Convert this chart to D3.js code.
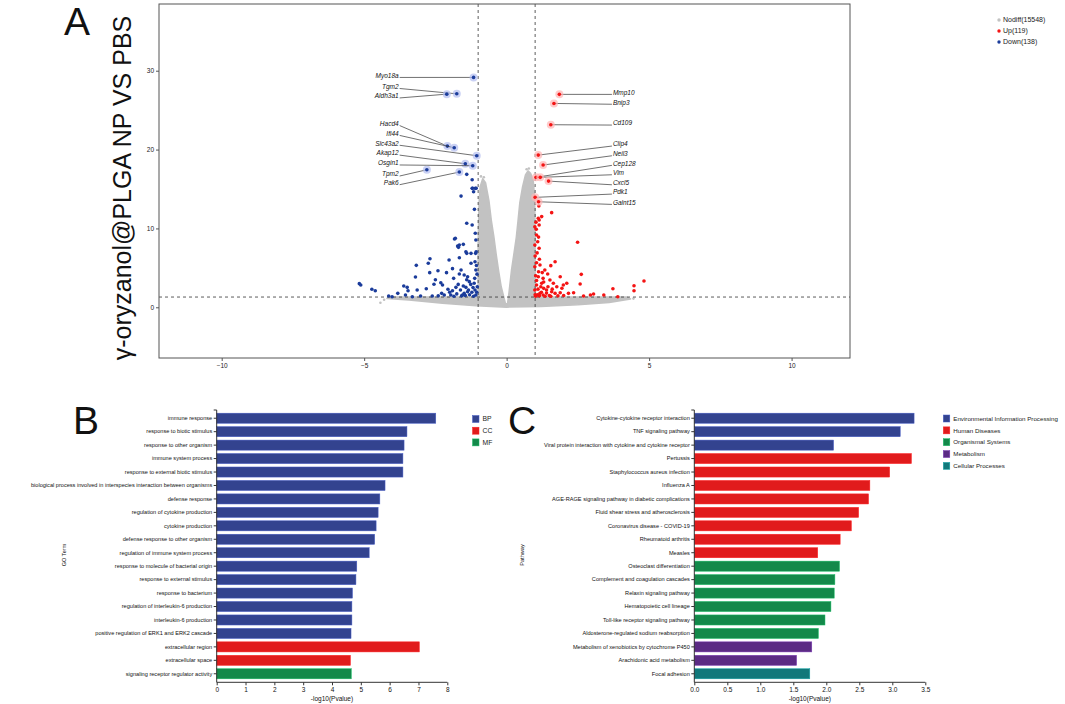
<!DOCTYPE html>
<html>
<head>
<meta charset="utf-8">
<script src="https://cdn.jsdelivr.net/npm/d3@7"></script>
<style>
  body { margin: 0; background: #fff; }
  svg { display: block; font-family: Arial, "Liberation Sans", sans-serif; }
</style>
</head>
<body>
<svg id="fig" width="1065" height="704"></svg>
<script>
// ---- volcano data (log2FC, -log10 p) ----
const volcanoXTicks = [-10, -5, 0, 5, 10];
const volcanoYTicks = [0, 10, 20, 30];
const legendA = ["Nodiff(15548)", "Up(119)", "Down(138)"];

// outline of the dense grey "no difference" cloud
const nodiffOutline = [
  [-4.15, 1.3], [-1.0, 1.3], [-1.0, 8], [-0.97, 13], [-0.93, 15.3], [-0.84, 16.3],
  [-0.74, 15.8], [-0.62, 13.5], [-0.54, 11.1], [-0.45, 9], [-0.37, 6.8], [-0.28, 4.6],
  [-0.19, 2.6], [-0.1, 1.3], [-0.04, 0.45], [0.03, 0.45], [0.08, 1.8], [0.17, 4.7],
  [0.26, 6.9], [0.34, 8.9], [0.4, 11], [0.46, 13.2], [0.56, 15.3], [0.66, 16.8],
  [0.75, 17.3], [0.84, 17.0], [0.93, 16.2], [0.98, 14], [1.0, 10], [1.0, 1.3],
  [4.2, 1.3], [4.35, 1.05], [3.6, 0.6], [2.5, 0.32], [1.2, 0.1], [0, 0.02],
  [-1.07, 0.19], [-2.25, 0.5], [-3.43, 0.93], [-4.2, 1.1]
];
const nodiffStray = [[-4.43, 0.58], [-4.3, 0.95], [4.45, 1.1], [0.78, 17.6], [-0.9, 16.6], [-0.8, 16.5], [0.7, 17.5]];

const downPoints = [
  [-5.17, 3.0], [-5.12, 2.83], [-4.73, 2.28], [-4.61, 2.1], [-4.14, 1.43], [-4.02, 1.34],
  [-3.82, 1.77], [-3.61, 2.7], [-3.49, 2.53], [-3.46, 2.1], [-3.55, 1.56], [-3.31, 1.34],
  [-3.17, 5.32], [-3.2, 3.84], [-3.14, 2.19], [-3.02, 1.43], [-2.82, 2.36], [-2.75, 5.58],
  [-2.69, 6.16], [-2.7, 4.39], [-2.61, 1.43], [-2.55, 2.92], [-2.41, 4.64], [-2.31, 3.12],
  [-2.25, 2.83], [-2.28, 1.77], [-2.19, 1.56], [-2.11, 4.39], [-2.06, 2.28], [-2.02, 6.0],
  [-1.96, 1.56], [-1.86, 3.67], [-1.83, 8.66], [-1.78, 2.53], [-1.72, 7.77], [-1.66, 7.9],
  [-1.69, 7.6], [-1.52, 7.98], [-1.66, 6.29], [-1.66, 4.22], [-1.6, 4.73], [-1.6, 14.1],
  [-1.49, 4.09], [-1.37, 3.88], [-1.31, 3.25], [-1.43, 2.53], [-1.49, 1.77], [-1.37, 1.98],
  [-1.55, 1.56], [-1.4, 16.86], [-1.4, 10.65], [-1.4, 6.84], [-1.21, 16.17], [-1.21, 10.43],
  [-1.21, 15.08], [-1.16, 14.65], [-1.13, 12.42], [-1.1, 15.08], [-1.1, 9.38], [-1.08, 8.53],
  [-1.09, 6.84], [-1.11, 5.78], [-1.08, 4.73], [-1.12, 3.67], [-1.14, 3.04], [-1.11, 2.19],
  [-1.08, 1.56], [-1.25, 6.84], [-1.25, 5.58], [-1.19, 15.1], [-1.07, 15.1], [-1.8, 8.74],
  [-1.43, 7.05], [-1.07, 7.05], [-2.4, 1.45], [-2.0, 1.9], [-1.9, 2.1], [-1.85, 1.4],
  [-1.75, 1.7], [-1.7, 2.9], [-1.62, 2.2], [-1.58, 1.45], [-1.52, 2.7], [-1.45, 1.5],
  [-1.4, 3.5], [-1.34, 2.2], [-1.3, 1.6], [-1.26, 2.9], [-1.22, 1.9], [-1.18, 2.5],
  [-1.16, 1.4], [-1.05, 1.9], [-1.03, 2.6], [-1.04, 4.2], [-1.06, 5.3], [-1.9, 4.9], [-2.5, 3.5]
];

const upPoints = [
  [1.58, 12.0], [1.11, 11.3], [1.23, 11.5], [1.14, 11.06], [1.03, 10.8], [1.13, 12.84],
  [0.99, 10.2], [1.14, 10.43], [1.05, 9.16], [1.09, 8.31], [0.99, 7.9], [1.14, 7.48],
  [2.49, 8.24], [1.05, 5.65], [1.17, 5.36], [0.99, 5.15], [1.55, 5.28], [1.34, 4.73],
  [1.44, 4.22], [1.7, 5.78], [1.88, 3.88], [2.11, 3.04], [2.62, 4.18], [2.58, 2.95],
  [1.99, 2.83], [1.94, 2.41], [1.76, 2.61], [1.64, 3.04], [1.52, 3.46], [1.28, 3.67],
  [1.11, 3.88], [1.23, 3.04], [1.05, 2.83], [1.4, 2.19], [1.58, 1.98], [1.17, 1.77],
  [0.99, 2.19], [1.28, 1.56], [1.7, 1.77], [1.88, 1.85], [2.17, 1.77], [2.35, 1.85],
  [2.7, 1.43], [2.94, 1.56], [3.05, 1.69], [3.41, 1.56], [3.73, 2.36], [3.9, 1.34],
  [4.47, 2.74], [4.47, 2.1], [4.82, 3.33], [1.02, 1.4], [1.08, 1.6], [1.15, 1.45],
  [1.22, 1.9], [1.3, 2.4], [1.35, 1.4], [1.45, 2.6], [1.5, 1.5], [1.6, 2.3],
  [1.05, 3.4], [1.12, 4.5], [1.25, 4.4], [1.0, 6.5], [1.07, 6.9], [1.2, 2.6],
  [1.1, 2.3], [1.0, 1.6], [1.4, 1.8], [1.55, 1.4], [1.8, 1.45], [2.0, 1.5],
  [1.02, 4.0], [1.3, 3.2], [1.15, 6.1], [1.04, 9.9], [1.12, 8.9]
];

const downLabels = ["Myo18a", "Tgm2", "Aldh3a1", "Hacd4", "Ifi44", "Slc43a2", "Akap12", "Osgin1", "Tpm2", "Pak6"];
const downLabelPoints = [[-1.16, 29.15], [-1.75, 27.07], [-2.1, 27.03], [-2.08, 20.44], [-1.84, 20.23],
  [-1.05, 19.22], [-1.45, 18.2], [-1.19, 17.95], [-2.8, 17.44], [-1.66, 17.15]];
const downLabelX = -3.79;
const downLabelY = [29.4, 28.0, 26.8, 23.3, 22.05, 20.8, 19.55, 18.3, 16.9, 15.8];

const upLabels = ["Mmp10", "Bnip3", "Cd109", "Clip4", "Neil3", "Cep128", "Vim", "Cxcl5", "Pdk1", "Galnt15"];
const upLabelPoints = [[1.85, 27.0], [1.66, 25.85], [1.55, 23.15], [1.11, 19.3], [1.28, 18.04],
  [1.03, 16.48], [1.18, 16.48], [1.47, 16.0], [1.0, 13.94], [1.12, 13.38]];
const upLabelX = 3.73;
const upLabelY = [27.25, 26.0, 23.36, 20.7, 19.47, 18.25, 17.06, 15.79, 14.61, 13.3];

// ---- GO enrichment (panel B) ----
const goTerms = [
  "immune response", "response to biotic stimulus", "response to other organism",
  "immune system process", "response to external biotic stimulus",
  "biological process involved in interspecies interaction between organisms",
  "defense response", "regulation of cytokine production", "cytokine production",
  "defense response to other organism", "regulation of immune system process",
  "response to molecule of bacterial origin", "response to external stimulus",
  "response to bacterium", "regulation of interleukin-6 production",
  "interleukin-6 production", "positive regulation of ERK1 and ERK2 cascade",
  "extracellular region", "extracellular space", "signaling receptor regulator activity"
];
const goValues = [7.6, 6.6, 6.5, 6.46, 6.46, 5.84, 5.66, 5.6, 5.53, 5.48, 5.29, 4.86, 4.83, 4.71, 4.69, 4.69, 4.66, 7.03, 4.64, 4.67];
const goGroups = ["BP", "BP", "BP", "BP", "BP", "BP", "BP", "BP", "BP", "BP", "BP", "BP", "BP", "BP", "BP", "BP", "BP", "CC", "CC", "MF"];
const goGroupNames = ["BP", "CC", "MF"];
const goXTicks = [0, 1, 2, 3, 4, 5, 6, 7, 8];

// ---- KEGG enrichment (panel C) ----
const keggTerms = [
  "Cytokine-cytokine receptor interaction", "TNF signaling pathway",
  "Viral protein interaction with cytokine and cytokine receptor", "Pertussis",
  "Staphylococcus aureus infection", "Influenza A",
  "AGE-RAGE signaling pathway in diabetic complications", "Fluid shear stress and atherosclerosis",
  "Coronavirus disease - COVID-19", "Rheumatoid arthritis", "Measles",
  "Osteoclast differentiation", "Complement and coagulation cascades", "Relaxin signaling pathway",
  "Hematopoietic cell lineage", "Toll-like receptor signaling pathway",
  "Aldosterone-regulated sodium reabsorption", "Metabolism of xenobiotics by cytochrome P450",
  "Arachidonic acid metabolism", "Focal adhesion"
];
const keggValues = [3.33, 3.12, 2.11, 3.29, 2.96, 2.66, 2.64, 2.49, 2.38, 2.21, 1.87, 2.2, 2.13, 2.12, 2.07, 1.98, 1.88, 1.78, 1.55, 1.75];
const keggGroupNames = ["Environmental Information Processing", "Human Diseases", "Organismal Systems", "Metabolism", "Cellular Processes"];
const keggGroups = [0, 0, 0, 1, 1, 1, 1, 1, 1, 1, 1, 2, 2, 2, 2, 2, 2, 3, 3, 4].map(i => keggGroupNames[i]);
const keggXTicks = [0, 0.5, 1, 1.5, 2, 2.5, 3, 3.5];

// ---- styles ----
const colNodiff = "#c2c2c2", colUp = "#f41414", colDown = "#1b3c9b";
const goColors = { BP: "#33438f", CC: "#e11b1c", MF: "#13894a" };
const keggColors = ["#33438f", "#e11b1c", "#13894a", "#5b2b84", "#11787a"];
const axisColor = "#333";

let svg = d3.select("#fig");

//panel letters
function drawLetters()
{
    [["A", 64, 35], ["B", 73, 434], ["C", 508, 434]].forEach(([t, x, y]) => {
        svg.append("text").attr("x", x).attr("y", y).attr("font-size", 39)
            .attr("fill", "#111").text(t);
    });
}

//volcano -------------------------------------------------------------
function drawVolcano()
{
    const box = { left: 159, right: 850, top: 4, bottom: 358 };
    const x = d3.scaleLinear().domain([-12.2, 12.05]).range([box.left, box.right]);
    const y = d3.scaleLinear().domain([-6.43, 38.46]).range([box.bottom, box.top]);
    const g = svg.append("g");

    // grey cloud
    g.append("path")
        .attr("d", d3.line().x(d => x(d[0])).y(d => y(d[1])).curve(d3.curveLinearClosed)(nodiffOutline))
        .attr("fill", colNodiff).attr("stroke", colNodiff).attr("stroke-width", 1.5)
        .attr("stroke-linejoin", "round");
    g.selectAll(".stray").data(nodiffStray).join("circle")
        .attr("cx", d => x(d[0])).attr("cy", d => y(d[1])).attr("r", 1.3).attr("fill", colNodiff);

    // threshold lines
    const dash = "3,3";
    [-1, 1].forEach(v => g.append("line").attr("x1", x(v)).attr("x2", x(v))
        .attr("y1", box.top).attr("y2", box.bottom)
        .attr("stroke", axisColor).attr("stroke-width", 0.8).attr("stroke-dasharray", dash));
    g.append("line").attr("x1", box.left).attr("x2", box.right)
        .attr("y1", y(-Math.log10(0.05))).attr("y2", y(-Math.log10(0.05)))
        .attr("stroke", axisColor).attr("stroke-width", 0.8).attr("stroke-dasharray", dash);

    g.selectAll(".down").data(downPoints).join("circle")
        .attr("cx", d => x(d[0])).attr("cy", d => y(d[1])).attr("r", 1.8).attr("fill", colDown);
    g.selectAll(".up").data(upPoints).join("circle")
        .attr("cx", d => x(d[0])).attr("cy", d => y(d[1])).attr("r", 1.8).attr("fill", colUp);

    // labelled genes
    function labelSet(names, pts, lx, lys, col, halo, anchor)
    {
        names.forEach((n, i) => {
            const px = x(pts[i][0]), py = y(pts[i][1]);
            const tx = x(lx), ty = y(lys[i]);
            g.append("line").attr("x1", tx + (anchor === "end" ? 1 : -1)).attr("y1", ty + 2)
                .attr("x2", px).attr("y2", py).attr("stroke", "#333").attr("stroke-width", 0.7);
            g.append("circle").attr("cx", px).attr("cy", py).attr("r", 4).attr("fill", halo).attr("opacity", 0.7);
            g.append("circle").attr("cx", px).attr("cy", py).attr("r", 1.8).attr("fill", col);
            g.append("text").attr("x", tx).attr("y", ty).attr("dy", "0.35em")
                .attr("text-anchor", anchor).attr("font-size", 6.5).attr("font-style", "italic")
                .attr("fill", "#111").text(n);
        });
    }
    labelSet(downLabels, downLabelPoints, downLabelX, downLabelY, colDown, "#b4bdf0", "end");
    labelSet(upLabels, upLabelPoints, upLabelX, upLabelY, colUp, "#ffb4b4", "start");

    // frame + axes
    g.append("rect").attr("x", box.left).attr("y", box.top)
        .attr("width", box.right - box.left).attr("height", box.bottom - box.top)
        .attr("fill", "none").attr("stroke", "#555").attr("stroke-width", 1);

    const xa = g.append("g").attr("transform", `translate(0,${box.bottom})`)
        .call(d3.axisBottom(x).tickValues(volcanoXTicks).tickSize(3).tickPadding(2));
    const ya = g.append("g").attr("transform", `translate(${box.left},0)`)
        .call(d3.axisLeft(y).tickValues(volcanoYTicks).tickSize(3).tickPadding(2));
    [xa, ya].forEach(a => {
        a.select(".domain").remove();
        a.selectAll("text").attr("font-size", 6.5).attr("fill", "#222").attr("font-family", null);
        a.selectAll("line").attr("stroke", "#555");
    });

    svg.append("text")
        .attr("transform", `translate(131,${(box.top + 372) / 2}) rotate(-90)`)
        .attr("text-anchor", "middle").attr("font-size", 25).attr("fill", "#111")
        .text("\u03b3-oryzanol@PLGA NP VS PBS");

    // legend
    const lg = svg.append("g");
    const lcols = [colNodiff, colUp, colDown];
    legendA.forEach((t, i) => {
        lg.append("circle").attr("cx", 999).attr("cy", 20 + i * 11).attr("r", 1.7).attr("fill", lcols[i]);
        lg.append("text").attr("x", 1003).attr("y", 20 + i * 11).attr("dy", "0.35em")
            .attr("font-size", 7).attr("fill", "#222").text(t);
    });
}

//bar panels -------------------------------------------------------------
function drawBars(terms, values, groups, colorOf, xDomain, xTicks, tickFmt, x0, x1, yTitle, yTitleX)
{
    const top = 411.5, bottom = 680.5, axisTop = 410, axisBottom = 682.3;
    const x = d3.scaleLinear().domain(xDomain).range([x0, x1]);
    const y = d3.scaleBand().domain(terms).range([top, bottom]).paddingInner(0.25).paddingOuter(0.125);
    const g = svg.append("g");

    g.selectAll("rect").data(terms).join("rect")
        .attr("x", x(0)).attr("y", d => y(d))
        .attr("width", (d, i) => x(values[i]) - x(0)).attr("height", y.bandwidth())
        .attr("fill", (d, i) => colorOf(groups[i]))
        .attr("stroke", (d, i) => d3.color(colorOf(groups[i])).brighter(0.9))
        .attr("stroke-width", 0.5);

    const ya = g.append("g").attr("transform", `translate(${x0},0)`)
        .call(d3.axisLeft(y).tickSize(3).tickPadding(1.5));
    ya.select(".domain").remove();
    ya.selectAll("text").attr("font-size", 5.6).attr("fill", "#111").attr("font-family", null);

    const xa = g.append("g").attr("transform", `translate(0,${axisBottom})`)
        .call(d3.axisBottom(x).tickValues(xTicks).tickFormat(tickFmt).tickSize(3).tickPadding(2));
    xa.select(".domain").remove();
    xa.selectAll("text").attr("font-size", 6.5).attr("fill", "#111").attr("font-family", null);

    g.append("line").attr("x1", x0).attr("x2", x0).attr("y1", axisTop).attr("y2", axisBottom).attr("stroke", axisColor);
    g.append("line").attr("x1", x0 - 3).attr("x2", x0).attr("y1", axisTop).attr("y2", axisTop).attr("stroke", axisColor);
    g.append("line").attr("x1", x0).attr("x2", x1).attr("y1", axisBottom).attr("y2", axisBottom).attr("stroke", axisColor);
    g.selectAll(".tick line").attr("stroke", axisColor);

    g.append("text").attr("x", (x0 + x1) / 2).attr("y", 701).attr("text-anchor", "middle")
        .attr("font-size", 6.5).attr("fill", "#111").text("-log10(Pvalue)");
    g.append("text").attr("transform", `translate(${yTitleX},555) rotate(-90)`)
        .attr("text-anchor", "middle").attr("font-size", 5.6).attr("fill", "#111").text(yTitle);
}

function drawLegend(names, colors, lx, ly, step, fontSize)
{
    const g = svg.append("g");
    names.forEach((n, i) => {
        g.append("rect").attr("x", lx).attr("y", ly + i * step - 3.5).attr("width", 6.5).attr("height", 7)
            .attr("fill", colors[i]).attr("stroke", d3.color(colors[i]).brighter(0.9)).attr("stroke-width", 0.5);
        g.append("text").attr("x", lx + 10).attr("y", ly + i * step).attr("dy", "0.35em")
            .attr("font-size", fontSize).attr("fill", "#222").text(n);
    });
}

function init()
{
    drawLetters();
    drawVolcano();
    drawBars(goTerms, goValues, goGroups, g => goColors[g], [0, 8], goXTicks, d3.format("d"),
        216.7, 447.3, "GO Term", 66);
    drawLegend(goGroupNames, goGroupNames.map(g => goColors[g]), 472.5, 419, 11.7, 6.8);
    const keggColorOf = g => keggColors[keggGroupNames.indexOf(g)];
    drawBars(keggTerms, keggValues, keggGroups, keggColorOf, [0, 3.5], keggXTicks, d3.format(".1f"),
        694.3, 925.3, "Pathway", 524);
    drawLegend(keggGroupNames, keggColors, 943.3, 418.5, 11.85, 6.2);
}

init();
</script>
</body>
</html>
